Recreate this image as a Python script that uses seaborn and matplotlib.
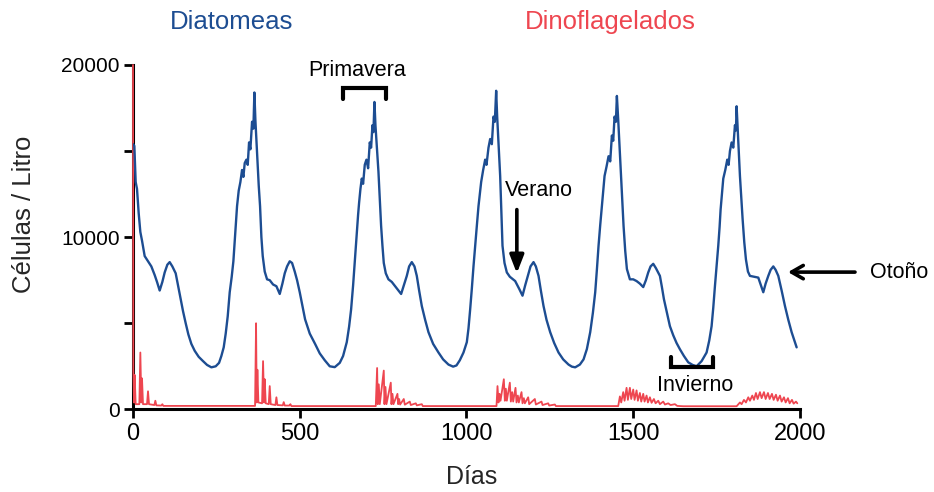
import matplotlib
matplotlib.use("Agg")
import matplotlib.pyplot as plt
import seaborn as sns
import pandas as pd

# Diatom abundance (cells per litre) over the simulated days
diatom_days = [
    0, 4, 8, 12, 17, 22, 27, 35, 45, 55, 65, 72, 80, 88, 95, 103, 110, 118, 128, 135,
    142, 150, 158, 166, 175, 185, 197, 210, 222, 235, 248, 258, 265, 272, 278, 284, 290, 296, 301, 306,
    312, 317, 322, 327, 331, 335, 340, 344, 348, 352, 357, 361, 364, 367, 372, 377, 381, 385, 389, 395,
    402, 410, 420, 430, 440, 448, 455, 462, 470, 477, 485, 492, 500, 508, 516, 530, 546, 560, 575, 590,
    605, 620, 630, 641, 648, 654, 660, 664, 668, 671, 675, 678, 682, 686, 690, 695, 700, 705, 710, 714,
    718, 721, 724, 727, 731, 736, 740, 744, 748, 752, 758, 766, 776, 786, 796, 804, 812, 821, 828, 836,
    844, 851, 858, 866, 876, 886, 900, 916, 930, 946, 960, 970, 980, 991, 1001, 1006, 1011, 1016, 1021, 1026,
    1031, 1036, 1040, 1044, 1050, 1056, 1060, 1066, 1071, 1076, 1081, 1085, 1089, 1092, 1096, 1101, 1105, 1108, 1114, 1121,
    1130, 1146, 1158, 1168, 1176, 1184, 1192, 1201, 1208, 1216, 1223, 1231, 1240, 1251, 1263, 1276, 1290, 1306, 1316, 1326,
    1340, 1351, 1361, 1371, 1379, 1386, 1391, 1396, 1401, 1406, 1410, 1414, 1420, 1426, 1431, 1436, 1440, 1444, 1448, 1451,
    1455, 1461, 1466, 1471, 1476, 1481, 1490, 1500, 1510, 1520, 1530, 1538, 1545, 1552, 1560, 1568, 1580, 1586, 1592, 1600,
    1610, 1620, 1630, 1640, 1652, 1665, 1678, 1690, 1705, 1720, 1728, 1735, 1740, 1745, 1750, 1755, 1759, 1762, 1766, 1770,
    1776, 1782, 1786, 1790, 1795, 1800, 1805, 1808, 1810, 1814, 1820, 1824, 1828, 1833, 1838, 1844, 1850, 1862, 1875, 1883,
    1890, 1897, 1905, 1912, 1920, 1927, 1935, 1945, 1955, 1965, 1975, 1983, 1990,
]
diatom_cells = [
    15400, 15300, 13200, 12800, 11400, 10300, 9800, 8900, 8600, 8300, 7800, 7400, 6900, 7400, 7950, 8400, 8550, 8300, 7900, 7200,
    6500, 5700, 5000, 4350, 3800, 3400, 3050, 2800, 2580, 2440, 2500, 2700, 3100, 3600, 4400, 5400, 6800, 7700, 8600, 10100,
    11800, 12700, 13200, 13900, 13500, 14300, 14500, 14200, 15500, 15100, 16700, 16300, 18400, 16800, 14900, 13000, 11800, 10000, 8900, 8000,
    7550, 7500, 7250, 7150, 6700, 7300, 7900, 8300, 8600, 8500, 8000, 7500, 6800, 6000, 5230, 4400, 3800, 3250, 2850, 2500,
    2450, 2700, 3100, 3900, 4800, 5800, 7200, 8300, 9400, 10300, 11300, 12000, 12800, 13400, 13100, 14200, 14500, 14000, 15500, 15200,
    16500, 16100, 17850, 16500, 15300, 13800, 12200, 10650, 9500, 8500, 7900, 7550, 7400, 7150, 6900, 6700, 7200, 7750, 8300, 8550,
    8300, 7750, 6900, 6000, 5200, 4480, 3800, 3300, 2900, 2600, 2480, 2550, 2850, 3300, 3900, 4700, 5800, 7000, 8300, 9500,
    10650, 11800, 12500, 13200, 13900, 14500, 14200, 15200, 15700, 15400, 17000, 16700, 18500, 17000, 15500, 13550, 11200, 9500, 8500, 7950,
    7700, 7450, 7000, 6600, 7200, 7750, 8300, 8550, 8300, 7750, 6900, 6000, 5200, 4480, 3850, 3300, 2900, 2600, 2480, 2440,
    2600, 2900, 3500, 4480, 5600, 6800, 8100, 9500, 10700, 11800, 12700, 13550, 14100, 14700, 14400, 15900, 15600, 17000, 16700, 18200,
    16800, 14500, 12500, 10650, 9200, 8150, 7550, 7550, 7450, 7300, 7100, 7500, 7950, 8300, 8450, 8200, 7750, 7100, 6400, 5700,
    4830, 4300, 3850, 3490, 3100, 2730, 2580, 2500, 2800, 3300, 4000, 4830, 5900, 7150, 8300, 9500, 10600, 11600, 12500, 13400,
    13900, 14500, 14200, 15000, 15500, 15200, 16500, 16200, 17600, 16000, 13550, 12300, 11050, 9700, 8700, 8000, 7750, 7700, 7650, 7200,
    6800, 7300, 7750, 8100, 8300, 8100, 7750, 6900, 6000, 5200, 4480, 4000, 3600,
]

# Dinoflagellate abundance (cells per litre): short blooms after each diatom peak
dino_days = [
    0, 1, 3, 5, 8, 19, 22, 25, 27, 30, 42, 45, 48, 64, 67, 70, 85, 88, 91,
    366, 369, 371, 373, 376, 387, 390, 393, 395, 398, 407, 410, 413, 427, 430, 433, 449, 452, 455, 469, 472, 475,
    728, 732, 734, 737, 740, 752, 754, 757, 760, 773, 775, 778, 781, 793, 795, 798, 801, 812, 815, 830, 833, 848, 851, 866, 869,
    1090, 1093, 1096, 1099, 1102, 1112, 1115, 1118, 1121, 1130, 1133, 1137, 1140, 1147, 1150, 1154, 1157, 1165, 1168,
    1172, 1175, 1185, 1188, 1205, 1208, 1225, 1228, 1245, 1248, 1265, 1268,
    1455, 1460, 1464, 1470, 1474, 1480, 1484, 1490, 1494, 1500, 1504, 1510, 1514, 1520, 1524, 1530, 1534, 1540, 1544,
    1550, 1555, 1562, 1567, 1575, 1580, 1590, 1595, 1605, 1612, 1625, 1632, 1650,
    1810, 1820, 1825, 1832, 1838, 1845, 1850, 1857, 1862, 1868, 1873, 1880, 1885, 1892, 1897, 1904, 1909, 1916, 1921,
    1928, 1933, 1940, 1945, 1952, 1957, 1964, 1969, 1976, 1981, 1988, 1992,
]
dino_cells = [
    20000, 2300, 400, 2000, 300, 300, 3300, 400, 1800, 300, 300, 1050, 300, 250, 500, 230, 220, 300, 200,
    200, 5000, 400, 2300, 400, 350, 2800, 400, 1750, 350, 300, 1350, 300, 250, 700, 250, 230, 420, 220, 220, 300, 190,
    190, 2400, 300, 1450, 300, 2250, 300, 1300, 300, 1550, 300, 900, 300, 900, 300, 600, 280, 600, 270, 450, 250, 350, 230, 300, 190,
    190, 1350, 400, 900, 500, 1750, 500, 1200, 500, 1550, 450, 1000, 450, 1250, 400, 800, 400, 1000, 350,
    650, 350, 700, 300, 600, 280, 450, 250, 350, 220, 280, 190,
    190, 750, 400, 1000, 500, 1250, 550, 1250, 600, 1150, 550, 1100, 500, 950, 450, 900, 450, 800, 400,
    700, 380, 600, 350, 500, 300, 450, 280, 350, 250, 300, 200, 180,
    180, 400, 300, 550, 400, 700, 500, 800, 550, 950, 600, 1000, 650, 1000, 600, 950, 600, 900, 550,
    850, 500, 800, 450, 700, 400, 650, 350, 550, 330, 450, 350,
]

x_ticks = [0, 500, 1000, 1500, 2000]
y_ticks = [0, 5000, 10000, 15000, 20000]
y_tick_labels = ["0", "", "10000", "", "20000"]

diatoms = pd.DataFrame({"dia": diatom_days, "celulas": diatom_cells})
dinos = pd.DataFrame({"dia": dino_days, "celulas": dino_cells})

sns.set_theme(style="ticks")
plt.rcParams["font.family"] = ["Liberation Sans", "DejaVu Sans"]

BLUE = "#1d4d92"
RED = "#ee4650"

fig = plt.figure(figsize=(9.34, 4.92), dpi=100)
ax = fig.add_axes([0.1424, 0.168, 0.7141, 0.700])

sns.lineplot(data=dinos, x="dia", y="celulas", ax=ax, color=RED, lw=1.3,
             estimator=None, sort=False, zorder=4, clip_on=False)
sns.lineplot(data=diatoms, x="dia", y="celulas", ax=ax, color=BLUE, lw=1.7,
             estimator=None, sort=False, zorder=5)

ax.set_xlim(0, 2000)
ax.set_ylim(0, 20000)
ax.set_xticks(x_ticks)
ax.set_xticklabels([str(t) for t in x_ticks])
ax.set_yticks(y_ticks)
ax.set_yticklabels(y_tick_labels)
ax.tick_params(axis="both", length=6.5, width=2.0, color="black",
               labelcolor="black", direction="out", pad=3)
ax.tick_params(axis="x", labelsize=17)
ax.tick_params(axis="y", labelsize=15)
for side in ("left", "bottom"):
    ax.spines[side].set_linewidth(2.2)
    ax.spines[side].set_color("black")
sns.despine(ax=ax)

ax.set_xlabel("Días", fontsize=18)
ax.set_ylabel("Células / Litro", fontsize=18.5)
ax.xaxis.set_label_coords(0.507, -0.163)
ax.yaxis.set_label_coords(-0.145, 0.567)

# Series titles above the plot
fig.text(0.248, 0.955, "Diatomeas", color=BLUE, fontsize=18.5, ha="center", va="center")
fig.text(0.653, 0.955, "Dinoflagelados", color=RED, fontsize=18.5, ha="center", va="center")

# Season annotations
ax.text(672, 19650, "Primavera", fontsize=15.5, ha="center", va="center", color="black")
ax.plot([630, 630, 759, 759], [18020, 18660, 18660, 18020], color="black", lw=3,
        solid_joinstyle="miter", clip_on=False, zorder=6)

ax.text(1217, 12730, "Verano", fontsize=15.5, ha="center", va="center", color="black")
ax.annotate("", xy=(1151, 7900), xytext=(1151, 11600),
            arrowprops=dict(arrowstyle="-|>,head_length=0.9,head_width=0.35",
                            color="black", lw=2.6, shrinkA=0, shrinkB=0))

ax.annotate("", xy=(1964, 7970), xytext=(2165, 7970), annotation_clip=False,
            arrowprops=dict(arrowstyle="->,head_length=0.7,head_width=0.4",
                            color="black", lw=2.6, shrinkA=0, shrinkB=0))
ax.text(2210, 7970, "Otoño", fontsize=15.5, ha="left", va="center", color="black", clip_on=False)

ax.plot([1613, 1613, 1739, 1739], [3020, 2440, 2440, 3020], color="black", lw=3,
        solid_joinstyle="miter", clip_on=False, zorder=6)
ax.text(1685, 1400, "Invierno", fontsize=15.5, ha="center", va="center", color="black")

fig.savefig("out.png", dpi=100)
